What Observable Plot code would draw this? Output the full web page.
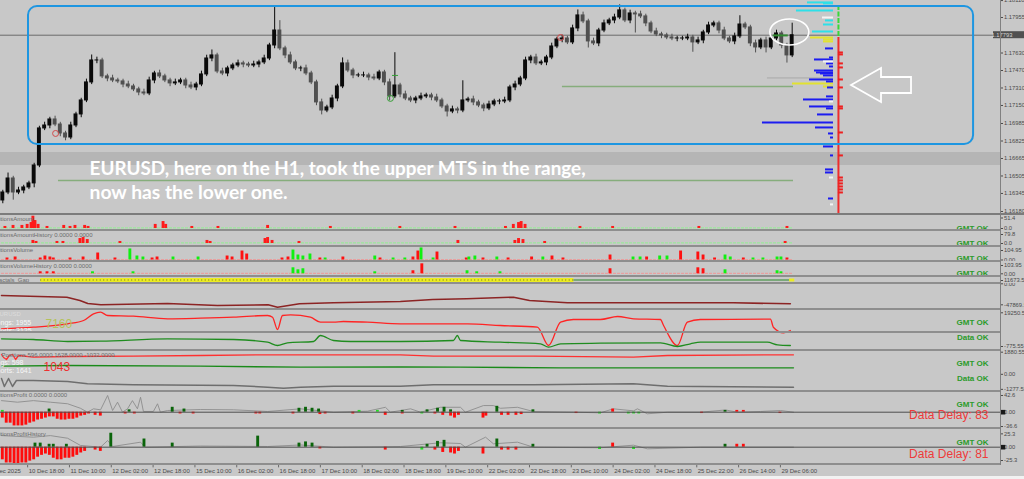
<!DOCTYPE html>
<html><head><meta charset="utf-8">
<script src="https://cdn.jsdelivr.net/npm/d3@7"></script>
<script src="https://cdn.jsdelivr.net/npm/@observablehq/plot@0.6"></script>
<style>
html,body{margin:0;padding:0;background:#c8c8c8;overflow:hidden}
#chart{position:relative;width:1024px;height:479px;background:#c8c8c8;overflow:hidden}
.sep{position:absolute;left:0;width:1000px;height:2px;background:#8e8e8e}
</style></head><body><div id="chart"></div>
<script>
// ---------------- DATA ----------------
// EURUSD H1, aggregated to 2-hour bars (bar index i covers hours 2i..2i+1 from 10 Dec 08:00)
const FIRST_OPEN = 1.16281;
const close = [
1.16354,1.16482,1.16354,1.16372,1.16400,1.16437,1.16601,1.16940,1.16967,1.17022,
1.16976,1.16894,1.16857,1.16967,1.17068,1.17196,1.17361,1.17562,1.17562,1.17416,
1.17397,1.17379,1.17370,1.17342,1.17324,1.17297,1.17269,1.17260,1.17379,1.17443,
1.17416,1.17379,1.17352,1.17361,1.17379,1.17333,1.17315,1.17342,1.17434,1.17580,
1.17608,1.17461,1.17443,1.17489,1.17516,1.17535,1.17525,1.17516,1.17525,1.17544,
1.17580,1.17699,1.17836,1.17672,1.17608,1.17544,1.17489,1.17489,1.17443,1.17361,
1.17178,1.17104,1.17132,1.17214,1.17324,1.17535,1.17470,1.17425,1.17425,1.17425,
1.17406,1.17397,1.17452,1.17361,1.17233,1.17333,1.17251,1.17214,1.17196,1.17214,
1.17233,1.17242,1.17223,1.17196,1.17141,1.17095,1.17114,1.17104,1.17196,1.17205,
1.17178,1.17150,1.17123,1.17159,1.17187,1.17187,1.17196,1.17315,1.17342,1.17397,
1.17562,1.17589,1.17535,1.17544,1.17589,1.17690,1.17754,1.17763,1.17727,1.17855,
1.17974,1.17919,1.17736,1.17718,1.17836,1.17901,1.17928,1.17955,1.18020,1.17928,
1.17992,1.17983,1.17965,1.17901,1.17827,1.17800,1.17791,1.17772,1.17763,1.17763,
1.17763,1.17772,1.17727,1.17745,1.17818,1.17882,1.17901,1.17836,1.17763,1.17736,
1.17782,1.17891,1.17864,1.17718,1.17681,1.17745,1.17681,1.17763,1.17809,1.17699,
1.17608,1.17793];
// upper / lower wick lengths in pips
const wickUp = [
2,5,2,3,2,2,2,2,3,2, 3,2,2,3,2,2,3,5,3,2, 2,3,2,2,3,2,2,3,3,2, 3,2,2,3,2,2,3,2,3,3,
5,2,3,2,2,3,2,2,3,2, 3,2,21,9,2,3,2,2,3,2, 2,3,2,3,2,5,3,2,2,3, 2,3,2,2,3,30,2,3,2,2,
3,2,2,3,2,2,3,2,18,2, 3,2,2,3,2,2,3,2,3,2, 3,2,3,2,2,3,2,3,2,3, 5,3,2,3,2,3,2,3,5,2,
3,2,3,2,2,3,2,2,3,2, 2,3,2,3,2,3,2,2,3,2, 3,8,2,2,3,2,3,2,3,2, 2,11];
const wickDn = [
3,2,7,2,3,2,4,2,2,3, 2,3,3,2,2,3,2,2,3,2, 3,2,2,3,2,2,3,2,2,3, 2,2,3,2,2,3,2,3,2,2,
3,2,2,3,2,2,3,2,2,3, 2,2,3,2,3,2,2,3,2,2, 3,4,2,2,3,2,2,3,2,2, 3,2,2,3,4,2,3,2,2,3,
2,2,3,2,2,5,2,3,2,2, 3,2,3,2,2,3,2,2,3,2, 2,3,2,2,3,2,2,3,2,2, 3,2,6,2,3,2,2,3,2,2,
3,17,2,3,2,2,3,2,2,3, 2,2,9,2,3,2,2,3,2,2, 3,2,2,3,5,2,5,2,2,3, 7,2];

const LAST_PRICE = 1.17793;
const priceTicks = [1.18110,1.17955,1.17630,1.17470,1.17310,1.17150,1.16985,1.16825,1.16665,1.16505,1.16345,1.16180];
const dateTicks = [-6,10,26,42,58,74,90,106,122,138,154,170,186,202,218,234,250,266,282,298];
const dateLabels = ["10 Dec 2025","10 Dec 18:00","11 Dec 10:00","12 Dec 02:00","12 Dec 18:00","15 Dec 10:00",
 "16 Dec 02:00","16 Dec 18:00","17 Dec 10:00","18 Dec 02:00","18 Dec 18:00","19 Dec 10:00","22 Dec 02:00",
 "22 Dec 18:00","23 Dec 10:00","24 Dec 02:00","24 Dec 18:00","25 Dec 22:00","26 Dec 14:00","29 Dec 06:00"];

// range box (MTS range) and levels
const rangeBox = [{h1: 10.33, h2: 371.9, p1: 1.16793, p2: 1.18056}];
const grayZone = [{p1: 1.16601, p2: 1.16720}];
const greenLevels = [{p: 1.16464, h1: 21.8, h2: 303}, {p: 1.17324, h1: 214.6, h2: 303}];
const smallMarkers = [[20.7,1.16894,"#d24a4a"],[148.8,1.17215,"#35a035"],[213.9,1.17772,"#d24a4a"]];
const ellipseAt = {h: 301.6, p: 1.17818};
const arrowAt = {h: 325.2, p: 1.17333};
const noteLines = ["EURUSD, here on the H1, took the upper MTS in the range,", "now has the lower one."];
const notePrices = [1.16510, 1.16290];

// volume profile [price, volume]
const profCyan = [[1.18093,26],[1.18084,10],[1.18020,37],[1.17928,8],[1.17891,10],[1.17827,21]];
const profYellow = [[1.17772,23],[1.17754,10],[1.17736,10],[1.17352,41],[1.17324,10]];
const profBlue = [[1.17672,8],[1.17589,4],[1.17571,19],[1.17535,7],[1.17507,4],[1.17470,19],[1.17452,17],
 [1.17443,13],[1.17425,10],[1.17388,24],[1.17370,7],[1.17315,6],[1.17233,7],[1.17205,30],[1.17141,24],
 [1.17123,7],[1.17068,16],[1.16995,71],[1.16949,18],[1.16894,5],[1.16857,3],[1.16775,10],[1.16693,3],
 [1.16565,8],[1.16537,8],[1.16299,5]];
const profWhite = [[1.17955,11],[1.17553,10],[1.17187,4],[1.16491,4],[1.16245,3]];
const profGray = [[1.17402,66]];
const profRedTicks = [1.17635,1.17617,1.17535,1.17498,1.17388,1.17315,1.17141,1.17123,1.16903,1.16693,
 1.16491,1.16464,1.16437,1.16409,1.16382,1.16354];
const profRedSpan = [1.17772, 1.16162];
const profGreenSpan = [1.18065, 1.17782];

// indicator panels [hour index, value]
const p1Red = [[1.5,10],[4.6,15],[8,15],[10,20],[11.5,29],[12.2,60],[13,39],[14.2,20],[17.6,10],[24,15],[26.4,10],
 [28.3,15],[32,15],[33.3,10],[59,20],[62,34],[63,20],[73,10],[83,10],[102,15],[126,10],[152.6,10],[173.7,10],
 [193,10],[196,20],[198,29],[199,34],[200.5,20],[221.5,10],[234,10],[267,10],[300.7,10]];
const p2Red = [[12.2,27],[13.4,18],[21.4,18],[23.7,18],[30.2,44],[31.4,53],[33,35],[45.5,18],[78.8,27],[80,18],
 [101,44],[102,53],[103.7,27],[114,18],[174.8,27],[196.6,27],[198,44],[199.7,35],[208,18],[300,18]];
const p3Red = [[2.3,22],[5.4,33],[15,22],[16.8,44],[18.7,33],[20,22],[26.4,22],[31.4,33],[37,77],[43.6,22],
 [57.8,22],[59.7,33],[86.5,44],[88.4,33],[92.2,99],[94,66],[107.5,22],[109.8,33],[122,22],[130.8,33],[145,22],
 [157.6,33],[159.5,99],[166.8,88],[178,22],[184.4,22],[194,22],[203,33],[210.8,44],[215,22],[233,55],[247,33],
 [260,99],[266.6,88],[268.6,55],[273,22],[284,22],[300.7,22]];
const p3Green = [[49.3,122],[52,44],[54.3,33],[65.8,33],[75.4,33],[111.7,110],[113.6,55],[115.5,44],[118.2,66],
 [124,22],[143,44],[150,22],[154.5,22],[160.7,133],[165.3,22],[179,33],[181.3,44],[189.7,33],[207.3,33],
 [241.8,33],[244.5,33],[252,44],[254.8,44],[277,55],[279,33],[287.7,22],[291.5,22],[296.9,33],[298.4,33]];
const p4Red = [[15,25],[17.6,25],[20,25],[157.6,38],[161,125],[233,63],[266.6,75],[268.6,63]];
const p4Green = [[35,25],[50.5,25],[111.7,75],[113.6,50],[115.5,63],[143,25],[178.3,38],[182,25],[190.9,25],
 [277,50],[296.9,38],[298.4,25]];
const baseSpan = [0, 303];
const gapSegments = [{h1: 15, h2: 219, kind: "yellow"}, {h1: 219, h2: 303, kind: "green"}];
const GAP_LEVEL = 12673.5;
const p6Line = [[0,-26670],[25,-30545],[30,-38068],[33,-44906],[38,-47870],[63.5,-44906],[82.6,-49465],[102,-47870],
 [105.6,-53340],[114,-45590],[127,-43310],[152.6,-40347],[165,-35788],[178,-34193],[195.9,-30545],[202,-38068],
 [216.5,-43310],[241.8,-43310],[280,-43310],[301.8,-45590]];
const p7Red = [[0,3615],[12.2,5178],[25.3,8500],[31.4,11724],[35.2,18270],[37.9,19833],[40.6,16609],[50.5,15925],
 [63.5,13385],[76.1,13971],[88.8,14948],[101.8,16609],[103.7,14948],[105.6,2931],[107.5,16609],[110.6,17293],
 [118.2,14948],[122,10063],[127,10063],[130.8,10747],[140,10063],[152.6,8500],[178.3,8500],[190.9,6839],
 [205,5178],[209.3,-12701],[213.9,10063],[218.8,12701],[229.1,12701],[235.7,15632],[241.8,13385],[252.1,12701],
 [253.3,6839],[258.6,-12701],[262.4,10063],[267.4,12701],[294.2,12994],[295.3,5178],[299.2,-293],[301.8,1954]];
const p8Green = [[0,-5],[12.2,-75],[25.3,-275],[37.9,-245],[63.5,-5],[88.8,-75],[101.8,-345],[105.6,-675],
 [109.4,-405],[119.4,-275],[122,325],[127,-175],[133.5,-275],[152.6,-275],[172.9,-175],[174.4,325],[175.6,-175],
 [190.9,-345],[206.2,-505],[209.3,-845],[213.9,-505],[229.1,-445],[252.1,-405],[258.6,-775],[263.6,-505],
 [267.4,-345],[293,-345],[296.9,-605],[301.8,-675]];
const p9Red = [[0,1685],[0.8,1430],[1.9,1260],[3,1600],[4.2,1685],[5.4,1260],[6.5,1600],[12.2,1455],[25.3,1515],
 [50.5,1541],[76.1,1600],[101.8,1660],[152.6,1660],[165.3,1541],[203.5,1541],[241.8,1455],[254.8,1600],[303,1660]];
const p9Green = [[0,691],[25.3,750],[76.1,691],[114.4,606],[152.6,623],[175.6,606],[213.9,555],[303,555]];
const p9Gray = [[0,-355],[1.1,-1035],[2.7,-355],[4.2,-1035],[5.7,-525],[12.2,-525],[25.3,-610],[32.9,-805],
 [50.5,-891],[88.8,-950],[101.8,-1094],[107.9,-1179],[114.4,-1094],[127,-1009],[152.6,-1009],[165.3,-891],
 [203.5,-891],[241.8,-805],[254.8,-1009],[303,-1094]];
const p10Red = [[0.5,-15],[2,-28],[3.5,-28],[5,-35],[6.5,-35],[8,-35],[9.5,-33],[11,-28],[12.5,-25],[14,-20],
 [15.5,-18],[17,-15],[18.5,-12],[20,-12],[21.5,-18],[23,-20],[24.5,-20],[26,-18],[27.5,-18],[29,-15],[30.5,-10],
 [32,-8],[33.5,-4.5],[36,-8],[38,-10],[47.5,-4.5],[51,-4.5],[68.5,-4.5],[73.5,-4.5],[97.5,-4.5],[99,-4.5],
 [111.7,-4.5],[122,-6],[124,-4.5],[134.6,-4.5],[147,-8],[153.5,-4.5],[166,-4.5],[169,-8],[172,-10],[173.5,-15],
 [175,-8],[184.4,-15],[185.5,-10],[191.5,-8],[194,-8],[197,-8],[199,-6],[220,-3.4],[268,-3.4],[298,-3.4],
 [234,8],[281.5,4.5],[284,4.5]];
const p10Lime = [[0.5,4.5],[161,-4.5],[229,-4.5],[240,-4.5],[242,-4.5],[244,-4.5],[137,4.5],[144,4.5]];
const p10Dark = [[18.4,8],[49,6],[65.5,12.5],[70,8],[114,10],[116.5,12.5],[119,10],[121.5,8],[153.5,4.5],[163,6],
 [167,10],[169.5,12.5],[172,6],[189.7,15],[203.5,6],[277,4.5]];
const p10Line = [[0,29.5],[6.1,25.5],[12.2,29.5],[18.7,25.5],[25.3,21.5],[30.2,10],[32.9,0],[35.2,8.6],[37.9,6.1],
 [40.6,42.6],[42.5,4.3],[44.4,25.5],[46.3,0],[48.2,8.6],[50.1,29.5],[52,8.6],[53.2,38.2],[54.3,1.8],[58.1,1.8],
 [59.7,21.5],[60.8,0],[63.5,4.3],[76.1,6.8],[88.8,6.1],[101.8,1.8],[114.4,8.6],[127,0],[140,2.6],[146.9,12.5],
 [148.8,0],[156.5,8.6],[160.3,0],[167.9,12.5],[175.6,12.5],[177.5,0],[184.4,17],[188.2,17],[190.9,10],[197.4,12.5],
 [203.5,1.8],[218.8,0],[229.1,-1.6],[234.1,8.6],[241.8,3.4],[243.3,8.6],[247.1,-4.1],[254.8,0],[267.4,0],
 [277,5.7],[281.6,0],[290.4,1.8],[298,4.3],[303,0]];
const p11Red = [[0.5,-24],[2,-30],[3.5,-30],[5,-32],[6.5,-32],[8,-30],[9.5,-30],[11,-26.5],[12.5,-24],[14,-19],
 [15.5,-15.5],[17,-13],[18.5,-15.5],[20,-21],[21.5,-24],[23,-24],[24.5,-21],[26,-21],[27.5,-19],[29,-15.5],
 [30.5,-11],[32,-8],[36,-5.5],[38,-8],[122,-3.3],[147,-5.5],[166,-5.5],[169,-10],[172,-11],[173.5,-13],[175,-8],
 [184.4,-13],[191.5,-5.5],[194,-5.5],[197,-5.5],[234,7.7],[281.5,5.5],[284,5.5]];
const p11Lime = [[161,-5.5],[229,-4.4],[242,-4.4]];
const p11Dark = [[13,7.7],[15,7.7],[18.4,5.5],[20,5.5],[25,5.5],[42,26.5],[54.7,15.5],[65.5,7.7],[98.2,21],[114,7.7],
 [116.5,10],[119,7.7],[163,5.5],[167,11],[169.5,13],[189.7,15.5],[203.5,5.5],[277,5.5]];
const p11Line = [[0,22],[12.2,19],[18.7,22],[25.3,17],[30.2,3.3],[37.9,0],[40.6,12.7],[42.5,1.3],[53.2,9.5],[55,0],
 [76.1,2.2],[101.8,1.3],[114.4,4.2],[127,0],[152.6,1.3],[167.9,8.4],[175.6,7],[177.5,0],[185.2,19],[188.2,6.4],
 [197.4,9.5],[203.5,0],[229.1,-1.1],[241.8,3.8],[247.1,-3.1],[267.4,0],[303,0]];

// right-axis labels per panel
const axisP1 = [[51.4,"51.4"],[0,"0.0"]];
const axisP2 = [[79.8,"79.8"],[0,"0.0"]];
const axisP3 = [[104.95,"104.95"],[0,"0.00"]];
const axisP4 = [[103.95,"103.95"],[0,"0.00"]];
const axisP5 = [[11673.5,"11673.5"]];
const axisP6 = [[0,"0.00"],[-47869.5,"-47869.5"]];
const axisP7 = [[19250.5,"19250.5"]];
const axisP8 = [[-775.55,"-775.55"]];
const axisP9 = [[1880.55,"1880.55"],[0,"0.00"],[-1277.55,"-1277.55"]];
const axisP10 = [[42.6,"42.6"],[0,"0.00"],[-36.6,"-36.6"]];
const axisP11 = [[25.3,"25.3"],[0,"0.00"],[-25.3,"-25.3"]];

// ---------------- RENDER ----------------
const W = 1024, AXIS_X = 1000;
const XD = [-0.383, 382.2];
const PIP = 0.0001;
const chart = document.getElementById("chart");
const baseStyle = {background: "transparent", fontFamily: "Liberation Sans, Arial, sans-serif", fontSize: "6px", color: "#4a4a4a"};

function mount(node, top, clip) {
  node.style.position = "absolute";
  node.style.left = "0px";
  node.style.top = top + "px";
  node.style.overflow = clip ? "hidden" : "visible";
  chart.appendChild(node);
  return node;
}
function panel(top, height, yDomain, marks, clip = true) {
  const svg = Plot.plot({
    width: W, height, marginLeft: 0, marginRight: W - AXIS_X, marginTop: 0, marginBottom: 0,
    x: {domain: XD, axis: null}, y: {domain: yDomain, axis: null},
    color: {type: "identity"}, style: baseStyle, marks
  });
  return mount(svg, top, clip);
}
const rightAxis = (pairs) => Plot.axisY({
  anchor: "right", ticks: pairs.map(d => d[0]), tickFormat: v => (pairs.find(d => d[0] === v) || [0, ""])[1],
  tickSize: 2, tickPadding: 1.5, fontSize: 5.8, label: null
});
const lab = (txt, dx, cy, o = {}) => Plot.text([txt], {text: d => d, frameAnchor: "top-left", dx, dy: cy,
  textAnchor: "start", lineAnchor: "middle", fontSize: 6, fill: "#6c6c6c", ...o});
const stat = (txt, cy, o = {}) => Plot.text([txt], {text: d => d, frameAnchor: "top-right", dx: -12, dy: cy,
  textAnchor: "end", lineAnchor: "middle", fontSize: 8, fontWeight: "bold", fill: "#2b9b2b", ...o});
const hist = (data, fill, w = 0.55) => Plot.rect(data, {x1: d => d[0] - w, x2: d => d[0] + w, y1: 0, y2: d => d[1], fill});
const line = (data, stroke, sw = 1.2, curve = "linear") => Plot.line(data, {x: d => d[0], y: d => d[1], stroke, strokeWidth: sw, curve});
const baseLine = (v, stroke) => Plot.ruleY([v], {x1: baseSpan[0], x2: baseSpan[1], stroke, strokeWidth: 1.2, strokeDasharray: "3 1"});
const zeroBox = Plot.dot([0], {x: XD[1], y: d => d, symbol: "square", r: 2.6, fill: "#1a1a1a", dx: 2.5});
const RED_DELAY = {fill: "#ee3a3a", fontSize: 12, fontWeight: "normal"};

// candles
const bars = close.map((c, i) => {
  const o = i === 0 ? FIRST_OPEN : close[i - 1];
  return {h: 2 * i + 0.5, o, c, hi: Math.max(o, c) + wickUp[i] * PIP, lo: Math.min(o, c) - wickDn[i] * PIP};
});
const candleColor = d => d.c >= d.o ? "#0a0a0a" : "#505050";

const PROF_RIGHT = 318.3, PROF_SCALE = 0.3826, PROF_AXIS = 320.2;
const prof = (data, stroke, sw = 2) => Plot.ruleY(data, {y: d => d[0], x1: d => PROF_RIGHT - d[1] * PROF_SCALE, x2: PROF_RIGHT, stroke, strokeWidth: sw});

const ellipseMark = (index, {x, y}) => {
  const g = d3.create("svg:g");
  g.append("ellipse").attr("cx", x(ellipseAt.h)).attr("cy", y(ellipseAt.p)).attr("rx", 19.5).attr("ry", 13)
    .attr("fill", "none").attr("stroke", "#ffffff").attr("stroke-width", 1.6);
  return g.node();
};
const arrowMark = (index, {x, y}) => {
  const tx = x(arrowAt.h), ty = y(arrowAt.p);
  const shape = [[0,0],[30,-17],[30,-8],[60,-8],[60,8],[30,8],[30,17]];
  const g = d3.create("svg:g");
  g.append("polygon").attr("points", shape.map(([a, b]) => `${tx + a},${ty + b}`).join(" "))
    .attr("fill", "none").attr("stroke", "#ffffff").attr("stroke-width", 1.8).attr("stroke-linejoin", "miter");
  return g.node();
};
const badgeMark = (index, {y}) => {
  const g = d3.create("svg:g");
  const yy = y(LAST_PRICE);
  g.append("rect").attr("x", 993).attr("y", yy - 3.5).attr("width", 31).attr("height", 7).attr("fill", "#505050");
  g.append("text").attr("x", 1002).attr("y", yy + 2).attr("fill", "#d4d4d4").attr("font-size", 5.8).text(d3.format(".5f")(LAST_PRICE));
  return g.node();
};

const main = Plot.plot({
  width: W, height: 213, marginLeft: 0, marginRight: W - AXIS_X, marginTop: 0, marginBottom: 0,
  x: {domain: XD, axis: null}, y: {domain: [1.161617, 1.181105], axis: null},
  color: {type: "identity"}, style: baseStyle,
  marks: [
    Plot.rect(grayZone, {x1: XD[0], x2: XD[1], y1: "p1", y2: "p2", fill: "#b5b5b5"}),
    Plot.ruleY([LAST_PRICE], {stroke: "#6a6a6a", strokeWidth: 1}),
    Plot.ruleY(greenLevels, {y: "p", x1: "h1", x2: "h2", stroke: "#86ad7c", strokeWidth: 1.6}),
    prof(profGray, "#a8a8a8", 1),
    Plot.ruleX(bars, {x: "h", y1: "lo", y2: "hi", stroke: candleColor, strokeWidth: 1}),
    Plot.rect(bars, {x1: d => d.h - 0.75, x2: d => d.h + 0.75, y1: "o", y2: "c", fill: candleColor, insetTop: -0.5, insetBottom: -0.5}),
    Plot.dot(smallMarkers, {x: d => d[0], y: d => d[1], stroke: d => d[2], r: 3, strokeWidth: 1}),
    Plot.ruleY([[1.17425, 149.6, 151.9]], {y: d => d[0], x1: d => d[1], x2: d => d[2], stroke: "#35a035", strokeWidth: 1}),
    Plot.ruleY([[1.17791, 295.3, 301.0]], {y: d => d[0], x1: d => d[1], x2: d => d[2], stroke: "#2f8a2f", strokeWidth: 2}),
    prof(profCyan, "#2ee0e8"),
    prof(profYellow, "#e2e230"),
    prof(profBlue, "#1c1cf0"),
    prof(profWhite, "#f4f4f4"),
    Plot.ruleX([PROF_AXIS], {y1: profGreenSpan[0], y2: profGreenSpan[1], stroke: "#38d838", strokeWidth: 2, strokeDasharray: "5 1.5"}),
    Plot.ruleX([PROF_AXIS], {y1: profRedSpan[0], y2: profRedSpan[1], stroke: "#ee2c2c", strokeWidth: 2}),
    Plot.ruleY(profRedTicks, {x1: PROF_AXIS, x2: PROF_AXIS + 1.9, stroke: "#ee2020", strokeWidth: 2}),
    Plot.rect(rangeBox, {x1: "h1", x2: "h2", y1: "p1", y2: "p2", fill: "none", stroke: "#1e96e1", strokeWidth: 2, rx: 9, ry: 9}),
    Plot.text(noteLines, {x: 33.7, y: (d, i) => notePrices[i], text: d => d, textAnchor: "start", lineAnchor: "bottom",
      fontFamily: "Lato, 'Open Sans', sans-serif", fontWeight: "bold", fontSize: 18, fill: "#ffffff"}),
    ellipseMark, arrowMark,
    Plot.axisY({anchor: "right", ticks: priceTicks, tickFormat: d3.format(".5f"), tickSize: 2, tickPadding: 1.5, fontSize: 5.8, label: null}),
    badgeMark
  ]
});
mount(main, 0, true);
const noteWidths = [496, 198];
main.querySelectorAll("text").forEach(t => {
  const i = noteLines.indexOf(t.textContent);
  if (i >= 0) { t.setAttribute("textLength", noteWidths[i]); t.setAttribute("lengthAdjust", "spacingAndGlyphs"); }
});

// P1 PositionsAmount
panel(215, 15, [-9.79, 63.64], [
  baseLine(3, "#9be89b"), hist(p1Red, "#ff1a1a"),
  lab("PositionsAmount", -11.7, 4), stat("GMT OK", 13.3), rightAxis(axisP1)
]);
// P2 PositionsAmountHistory
panel(230, 16, [-26.6, 115.3], [
  baseLine(5, "#9be89b"), hist(p2Red, "#ff1a1a"),
  lab("PositionsAmountHistory 0.0000 0.0000", -11.7, 5), stat("GMT OK", 13.3), rightAxis(axisP2)
]);
// P3 PositionsVolume
panel(246, 15, [-16.6, 149.1], [
  baseLine(4, "#e8a0a0"), hist(p3Red, "#ff1010"), hist(p3Green, "#10f010"),
  lab("PositionsVolume", -11.7, 4), stat("GMT OK", 12.3), rightAxis(axisP3)
]);
// P4 PositionsVolumeHistory
panel(261, 15, [-33.8, 154.0], [
  baseLine(5, "#e8a0a0"), hist(p4Red, "#ff1010"), hist(p4Green, "#10f010"),
  lab("PositionsVolumeHistory 0.0000 0.0000", -11.7, 5), stat("GMT OK", 12.3), rightAxis(axisP4)
]);
// P5 gap band
panel(276, 7, [5673.5, 19673.5], [
  Plot.ruleY(gapSegments.filter(d => d.kind === "yellow"), {y: GAP_LEVEL, x1: "h1", x2: "h2", stroke: "#ecec22", strokeWidth: 4}),
  Plot.ruleY(gapSegments.filter(d => d.kind === "yellow"), {y: GAP_LEVEL, x1: "h1", x2: "h2", stroke: "#6c6c20", strokeWidth: 2, strokeDasharray: "1 2.5", strokeOpacity: 0.5}),
  Plot.ruleY(gapSegments.filter(d => d.kind === "green"), {y: GAP_LEVEL, x1: "h1", x2: "h2", stroke: "#2d8a2d", strokeWidth: 1}),
  Plot.ruleY([GAP_LEVEL], {x1: 301.5, x2: 303.5, stroke: "#ecec22", strokeWidth: 3}),
  lab("MultiFractals_Gap", -20, 3.5), rightAxis(axisP5)
]);
// P6 dark red line
panel(283, 26, [-58583, 684], [
  line(p6Line, "#8c2424", 1.6), rightAxis(axisP6)
]);
// P7 EURUSD red line
panel(309, 23, [0, 22471], [
  line(p7Red, "#ff2424", 1.3, "monotone-x"),
  lab("EURUSD", -5, 4.5, {fill: "#dcdcdc"}),
  lab("Longs: 1955", -7.8, 13, {fill: "#f6f6f6", fontSize: 7}),
  lab("Shorts: 3125", -8.6, 21, {fill: "#f6f6f6", fontSize: 7}),
  lab("7160", 45, 15, {fill: "#b4c25a", fontSize: 12}),
  stat("GMT OK", 13.3), rightAxis(axisP7)
], false);
// P8 green line
panel(332, 18, [-1175, 625], [
  line(p8Green, "#1f8c1f", 1.3, "monotone-x"),
  stat("Data OK", 5.3), rightAxis(axisP8)
]);
// P9 positions lines
panel(350, 41, [-1460, 2025], [
  line(p9Red, "#ff3030", 1.3), line(p9Green, "#1a8a1a", 1.3), line(p9Gray, "#6e6e6e", 1.5),
  lab("Positions 596.0000 1628.0000 -1032.0000", 1, 5),
  lab("Longs: 598", -11.7, 12.7, {fill: "#f6f6f6", fontSize: 7}),
  lab("Shorts: 1641", -8.6, 20, {fill: "#f6f6f6", fontSize: 7}),
  lab("1043", 43, 16.5, {fill: "#ee3030", fontSize: 12}),
  stat("GMT OK", 12.7), stat("Data OK", 28.3), rightAxis(axisP9)
]);
// P10 PositionsProfit
panel(391, 37, [-41.6, 52.8], [
  line(p10Line, "#8c8c8c", 0.9),
  hist(p10Red, "#ff0c0c"), hist(p10Lime, "#22e022"), hist(p10Dark, "#0a640a"),
  Plot.ruleY([0], {stroke: "#4e4e4e", strokeWidth: 1}),
  lab("PositionsProfit 0.0000 0.0000", -11.7, 4),
  stat("GMT OK", 13), stat("Data Delay: 83", 24, RED_DELAY), rightAxis(axisP10), zeroBox
]);
// P11 PositionsProfitHistory
panel(428, 36, [-32.9, 35.5], [
  line(p11Line, "#8c8c8c", 0.9),
  hist(p11Red, "#ff0c0c"), hist(p11Lime, "#22e022"), hist(p11Dark, "#0a640a"),
  Plot.ruleY([0], {stroke: "#4e4e4e", strokeWidth: 1}),
  lab("PositionsProfitHistory", -11.7, 5.5),
  stat("GMT OK", 14.3), stat("Data Delay: 81", 25.3, RED_DELAY), rightAxis(axisP11), zeroBox
]);
// time axis
panel(464, 12, [0, 1], [
  Plot.ruleX(dateTicks, {x: d => d, y1: 1, y2: 0.72, stroke: "#6a6a6a"}),
  Plot.text(dateTicks, {x: d => d, y: 0.46, text: (d, i) => dateLabels[i], textAnchor: "start", dx: 1, fontSize: 6, fill: "#4a4a4a"})
]);

// frame lines (panel separators, price-axis line, bottom strip)
[213, 229, 245, 260, 275, 282, 308, 331, 349, 390, 427, 463].forEach((t, k) => {
  const d = document.createElement("div");
  d.className = "sep"; d.style.top = t + "px";
  if (k === 0) { d.style.width = "1024px"; d.style.background = "#7c7c7c"; }
  chart.appendChild(d);
});
const vline = document.createElement("div");
Object.assign(vline.style, {position: "absolute", left: "999.5px", top: "0px", width: "1px", height: "465px", background: "#808080"});
chart.appendChild(vline);
const strip = document.createElement("div");
Object.assign(strip.style, {position: "absolute", left: "0px", top: "476px", width: "1024px", height: "3px", background: "#f2f2f2"});
chart.appendChild(strip);
</script></body></html>
